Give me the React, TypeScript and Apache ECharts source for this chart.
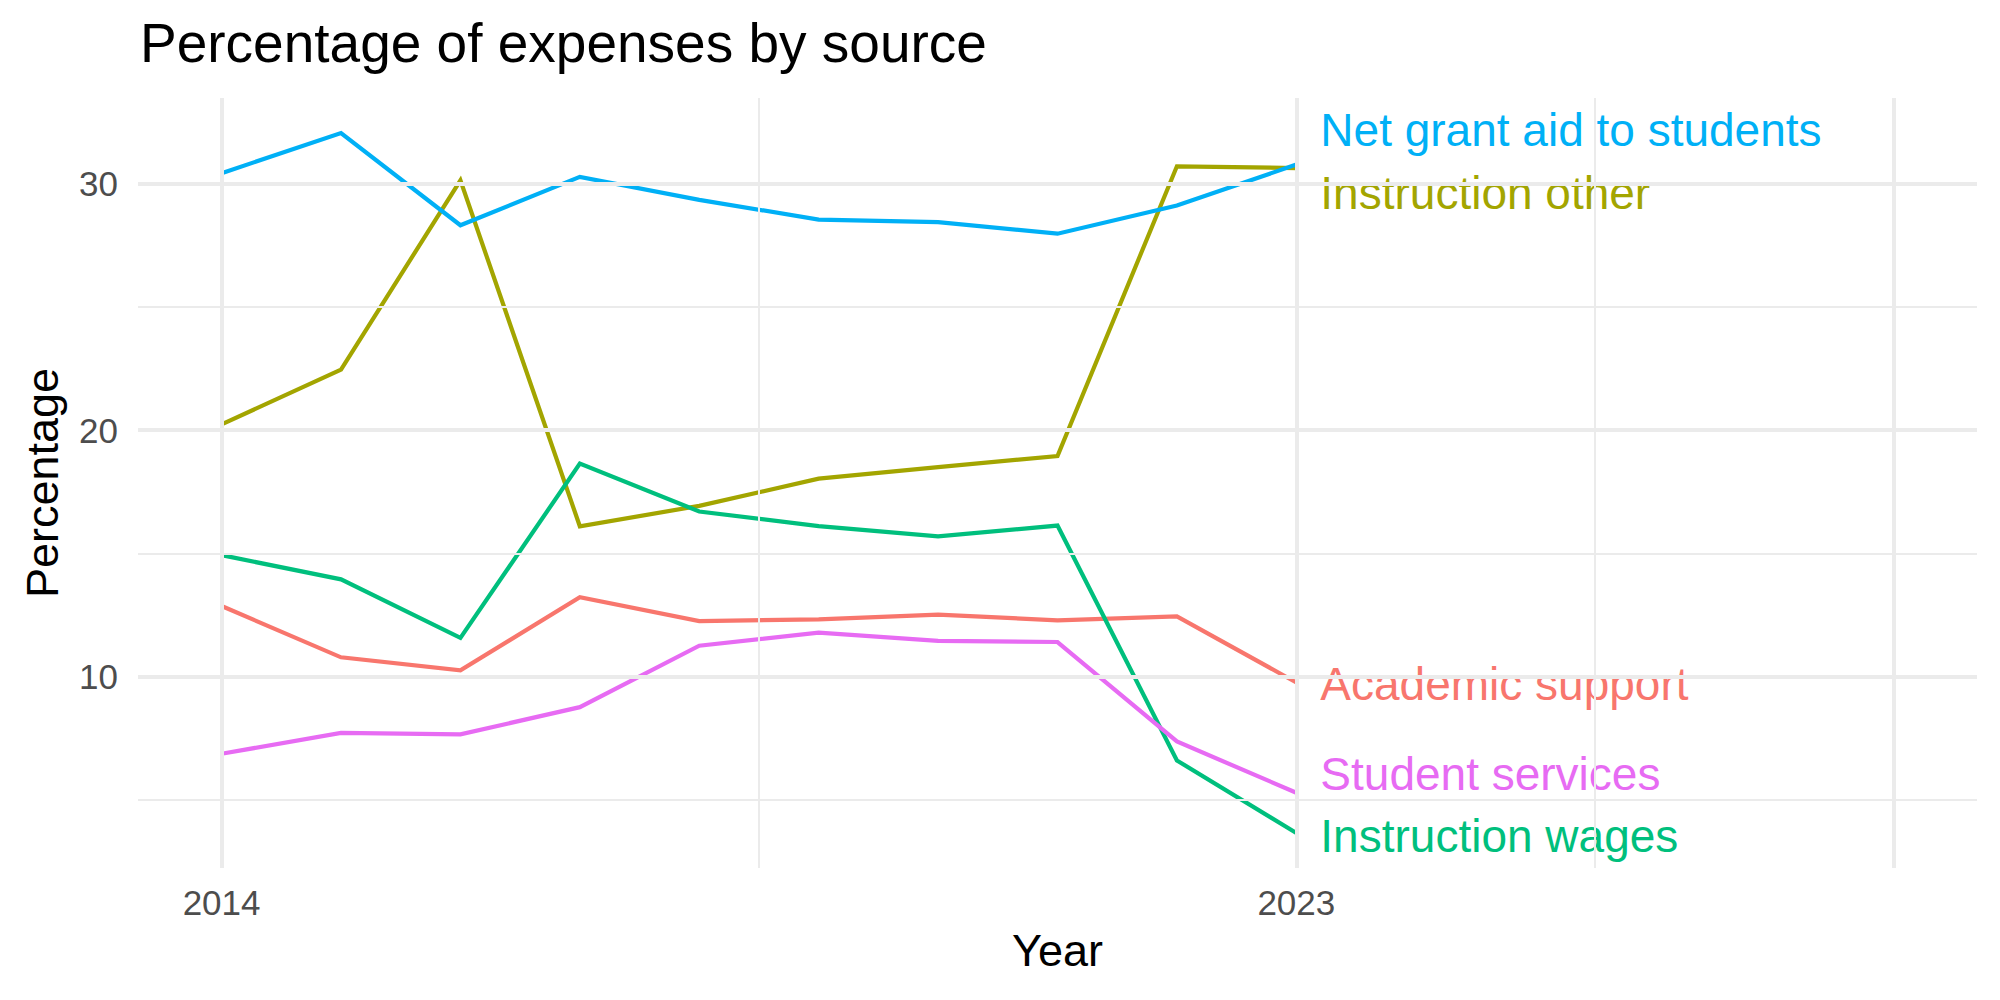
import React, { useEffect, useRef } from "react";
import * as echarts from "echarts";

// Share of expenses by source, one value per year
const years = [2014, 2015, 2016, 2017, 2018, 2019, 2020, 2021, 2022, 2023];
const academicSupport = [12.87, 10.79, 10.26, 13.23, 12.26, 12.33, 12.52, 12.29, 12.45, 9.77];
const instructionOther = [20.23, 22.45, 30.12, 16.1, 16.93, 18.03, 18.5, 18.95, 30.69, 30.62];
const instructionWages = [14.93, 13.95, 11.58, 18.64, 16.7, 16.11, 15.69, 16.13, 6.61, 3.67];
const netGrantAid = [30.41, 32.04, 28.3, 30.26, 29.33, 28.53, 28.43, 27.96, 29.1, 30.76];
const studentServices = [6.88, 7.73, 7.67, 8.77, 11.26, 11.79, 11.46, 11.41, 7.38, 5.3];

const seriesNames = [
  "Academic support",
  "Instruction other",
  "Instruction wages",
  "Net grant aid to students",
  "Student services",
];
const seriesValues = [academicSupport, instructionOther, instructionWages, netGrantAid, studentServices];

// Axis breaks and grid positions
const xLimitMax = 2028;
const xBreaks = [2014, 2023];
const xMajorGrid = [2014, 2023, 2028];
const xMinorGrid = [2018.5, 2025.5];
const yBreaks = [10, 20, 30];
const yMinorGrid = [5, 15, 25];

// Styling
const COLORS = ["#F8766D", "#A3A500", "#00BF7D", "#00B0F6", "#E76BF3"];
const LABEL_SHIFT_Y = [1.5, 25, 3, -35, -19];
const FONT = '"Liberation Sans", Arial, Helvetica, sans-serif';
const GRID_COLOR = "#EBEBEB";

function expand(lo: number, hi: number, mult = 0.05): [number, number] {
  const pad = (hi - lo) * mult;
  return [lo - pad, hi + pad];
}

export default function App() {
  const ref = useRef<HTMLDivElement>(null);

  useEffect(() => {
    if (!ref.current) return;
    const chart = echarts.init(ref.current, undefined, { renderer: "svg" });

    const allValues = seriesValues.flat();
    const [yMin, yMax] = expand(Math.min(...allValues), Math.max(...allValues));
    const [xMin, xMax] = expand(years[0], xLimitMax);

    const gridLines = [
      ...xMajorGrid.map((v) => ({ xAxis: v, lineStyle: { width: 4 } })),
      ...xMinorGrid.map((v) => ({ xAxis: v, lineStyle: { width: 2 } })),
      ...yBreaks.map((v) => ({ yAxis: v, lineStyle: { width: 4 } })),
      ...yMinorGrid.map((v) => ({ yAxis: v, lineStyle: { width: 2 } })),
    ];

    const lineSeries = seriesNames.map((name, i) => ({
      name,
      type: "line",
      z: 3,
      data: years.map((y, j) => [y, seriesValues[i][j]]),
      showSymbol: false,
      symbol: "none",
      lineStyle: { color: COLORS[i], width: 4.2, cap: "butt", join: "miter" },
      itemStyle: { color: COLORS[i] },
      emphasis: { disabled: true },
      endLabel: {
        show: true,
        formatter: name,
        color: COLORS[i],
        fontSize: 46,
        fontFamily: FONT,
        textBorderWidth: 0,
        textBorderColor: "transparent",
        distance: 0,
        offset: [24, LABEL_SHIFT_Y[i]],
      },
    }));

    chart.setOption({
      animation: false,
      backgroundColor: "#FFFFFF",
      textStyle: { fontFamily: FONT },
      title: {
        text: "Percentage of expenses by source",
        left: 140,
        top: 15,
        padding: 0,
        textStyle: { fontSize: 55, fontWeight: "normal", color: "#000000", fontFamily: FONT },
      },
      grid: {
        left: 138,
        right: 23,
        top: 98,
        bottom: 132,
        containLabel: false,
        outerBoundsMode: "none",
      },
      xAxis: {
        type: "value",
        min: xMin,
        max: xMax,
        name: "Year",
        nameLocation: "middle",
        nameGap: 60,
        nameTextStyle: { fontSize: 45, color: "#000000", fontFamily: FONT },
        axisLine: { show: false },
        axisTick: { show: false },
        splitLine: { show: false },
        axisLabel: {
          customValues: xBreaks,
          fontSize: 35,
          color: "#4D4D4D",
          margin: 17,
          fontFamily: FONT,
          formatter: (v: number) => String(v),
        },
      },
      yAxis: {
        type: "value",
        min: yMin,
        max: yMax,
        name: "Percentage",
        nameLocation: "middle",
        nameGap: 73,
        nameTextStyle: { fontSize: 45, color: "#000000", fontFamily: FONT },
        axisLine: { show: false },
        axisTick: { show: false },
        splitLine: { show: false },
        axisLabel: {
          customValues: yBreaks,
          fontSize: 35,
          color: "#4D4D4D",
          margin: 20,
          fontFamily: FONT,
          formatter: (v: number) => String(v),
        },
      },
      series: [
        {
          name: "grid",
          type: "line",
          z: 1,
          silent: true,
          data: [[years[0], yBreaks[0]]],
          symbol: "none",
          showSymbol: false,
          lineStyle: { opacity: 0 },
          markLine: {
            silent: true,
            symbol: ["none", "none"],
            label: { show: false },
            emphasis: { disabled: true },
            lineStyle: { color: GRID_COLOR, type: "solid" },
            data: gridLines,
          },
        },
        ...lineSeries,
      ],
    });

    return () => chart.dispose();
  }, []);

  return (
    <div
      ref={ref}
      style={{ position: "fixed", left: 0, top: 0, width: 2000, height: 1000, background: "#FFFFFF" }}
    />
  );
}
